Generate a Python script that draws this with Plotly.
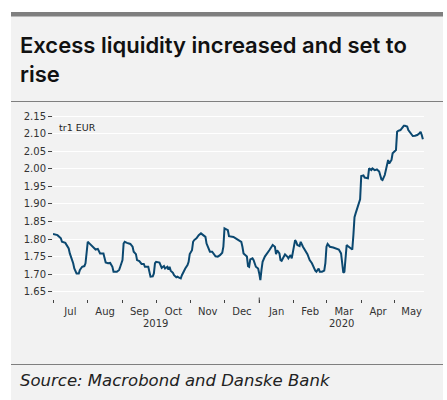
import plotly.graph_objects as go

dates = [
    "2019-07-01", "2019-07-05", "2019-07-08", "2019-07-09", "2019-07-12", "2019-07-13", "2019-07-15",
    "2019-07-16", "2019-07-18", "2019-07-19", "2019-07-20", "2019-07-22", "2019-07-24", "2019-07-25",
    "2019-07-27", "2019-07-29", "2019-07-30", "2019-07-31", "2019-08-01", "2019-08-02", "2019-08-03",
    "2019-08-06", "2019-08-08", "2019-08-10", "2019-08-12", "2019-08-15", "2019-08-17", "2019-08-19",
    "2019-08-21", "2019-08-23", "2019-08-24", "2019-08-27", "2019-08-29", "2019-08-30", "2019-09-01",
    "2019-09-02", "2019-09-03", "2019-09-05", "2019-09-08", "2019-09-10", "2019-09-11", "2019-09-13",
    "2019-09-14", "2019-09-16", "2019-09-18", "2019-09-20", "2019-09-21", "2019-09-24", "2019-09-26",
    "2019-09-28", "2019-09-29", "2019-09-30", "2019-10-01", "2019-10-04", "2019-10-05", "2019-10-06",
    "2019-10-08", "2019-10-09", "2019-10-11", "2019-10-12", "2019-10-13", "2019-10-14", "2019-10-16",
    "2019-10-17", "2019-10-19", "2019-10-20", "2019-10-21", "2019-10-23", "2019-10-24", "2019-10-26",
    "2019-10-27", "2019-10-29", "2019-10-30", "2019-10-31", "2019-11-02", "2019-11-03", "2019-11-04",
    "2019-11-06", "2019-11-08", "2019-11-10", "2019-11-12", "2019-11-14", "2019-11-15", "2019-11-17",
    "2019-11-18", "2019-11-20", "2019-11-22", "2019-11-23", "2019-11-25", "2019-11-27", "2019-11-29",
    "2019-11-30", "2019-12-01", "2019-12-04", "2019-12-05", "2019-12-09", "2019-12-11", "2019-12-14",
    "2019-12-16", "2019-12-17", "2019-12-18", "2019-12-21", "2019-12-22", "2019-12-23", "2019-12-24",
    "2019-12-26", "2019-12-27", "2019-12-29", "2019-12-31", "2020-01-01", "2020-01-02", "2020-01-03",
    "2020-01-04", "2020-01-06", "2020-01-07", "2020-01-09", "2020-01-10", "2020-01-12", "2020-01-13",
    "2020-01-15", "2020-01-16", "2020-01-17", "2020-01-19", "2020-01-20", "2020-01-21", "2020-01-23",
    "2020-01-24", "2020-01-26", "2020-01-27", "2020-01-28", "2020-01-29", "2020-01-30", "2020-01-31",
    "2020-02-02", "2020-02-03", "2020-02-04", "2020-02-06", "2020-02-07", "2020-02-09", "2020-02-10",
    "2020-02-12", "2020-02-13", "2020-02-15", "2020-02-17", "2020-02-20", "2020-02-21", "2020-02-23",
    "2020-02-24", "2020-02-26", "2020-02-28", "2020-02-29", "2020-03-01", "2020-03-02", "2020-03-04",
    "2020-03-07", "2020-03-10", "2020-03-12", "2020-03-14", "2020-03-15", "2020-03-16", "2020-03-17",
    "2020-03-19", "2020-03-20", "2020-03-23", "2020-03-24", "2020-03-25", "2020-03-26", "2020-03-27",
    "2020-03-29", "2020-03-30", "2020-03-31", "2020-04-01", "2020-04-03", "2020-04-04", "2020-04-06",
    "2020-04-07", "2020-04-08", "2020-04-10", "2020-04-11", "2020-04-13", "2020-04-15", "2020-04-17",
    "2020-04-19", "2020-04-20", "2020-04-22", "2020-04-23", "2020-04-24", "2020-04-25", "2020-04-26",
    "2020-04-28", "2020-04-29", "2020-05-01", "2020-05-02", "2020-05-03", "2020-05-04", "2020-05-06",
    "2020-05-07", "2020-05-09", "2020-05-10", "2020-05-12", "2020-05-13", "2020-05-15", "2020-05-17",
    "2020-05-19", "2020-05-21", "2020-05-23", "2020-05-24", "2020-05-25", "2020-05-26",
]

excess_liquidity = [
    1.814, 1.811, 1.802, 1.792, 1.789, 1.783, 1.773,
    1.759, 1.742, 1.731, 1.716, 1.702, 1.702, 1.712,
    1.721, 1.723, 1.731, 1.759, 1.792, 1.789, 1.786,
    1.778, 1.770, 1.772, 1.759, 1.759, 1.733, 1.731,
    1.732, 1.721, 1.707, 1.707, 1.712, 1.721, 1.740,
    1.787, 1.792, 1.789, 1.786, 1.778, 1.764, 1.757,
    1.740, 1.737, 1.729, 1.729, 1.721, 1.721, 1.693,
    1.694, 1.702, 1.731, 1.735, 1.733, 1.726, 1.718,
    1.723, 1.716, 1.721, 1.713, 1.721, 1.710, 1.704,
    1.697, 1.691, 1.693, 1.691, 1.688, 1.697, 1.713,
    1.716, 1.726, 1.735, 1.757, 1.768, 1.792, 1.797,
    1.802, 1.811, 1.816, 1.811, 1.806, 1.787, 1.773,
    1.764, 1.764, 1.757, 1.751, 1.750, 1.754, 1.761,
    1.778, 1.830, 1.825, 1.808, 1.806, 1.802, 1.795,
    1.792, 1.778, 1.759, 1.750, 1.723, 1.721, 1.742,
    1.745, 1.740, 1.721, 1.716, 1.702, 1.683, 1.712,
    1.735, 1.750, 1.754, 1.761, 1.768, 1.778, 1.783,
    1.778, 1.757, 1.768, 1.759, 1.740, 1.738, 1.750,
    1.756, 1.750, 1.745, 1.750, 1.754, 1.745, 1.764,
    1.797, 1.792, 1.783, 1.780, 1.792, 1.778, 1.773,
    1.764, 1.757, 1.740, 1.731, 1.710, 1.707, 1.716,
    1.707, 1.707, 1.710, 1.731, 1.778, 1.786, 1.778,
    1.776, 1.773, 1.770, 1.759, 1.726, 1.704, 1.707,
    1.783, 1.780, 1.773, 1.770, 1.811, 1.862, 1.873,
    1.897, 1.908, 1.913, 1.979, 1.981, 1.975, 1.975,
    1.973, 2.001, 1.996, 2.001, 1.996, 1.998, 1.992,
    1.970, 1.968, 1.982, 1.999, 2.006, 2.025, 2.015,
    2.025, 2.044, 2.051, 2.053, 2.105, 2.108, 2.110,
    2.115, 2.122, 2.122, 2.120, 2.110, 2.101, 2.093,
    2.094, 2.096, 2.101, 2.105, 2.096, 2.084,
]

y_ticks = [1.65, 1.70, 1.75, 1.80, 1.85, 1.90, 1.95, 2.00, 2.05, 2.10, 2.15]
y_tick_labels = [f"{v:.2f}" for v in y_ticks]
year_labels = ["2019", "2020"]
year_label_dates = ["2019-09-30", "2020-03-14"]

title_text = "Excess liquidity increased and set to<br>rise"
unit_text = "tr1 EUR"
source_text = "Source: Macrobond and Danske Bank"

W, H = 447, 400
PL, PR, PT, PB = 53, 424, 108, 299  # plot area in pixels


def px(x):
    return (x - PL) / (PR - PL)


def py(y):
    return (PB - y) / (PB - PT)


FONT = "DejaVu Sans"
TITLE_FONT = "Inter"
PANEL = "#f2f2f2"
RULE = "#7f7f7f"
LINE = "#0b4870"

fig = go.Figure()
fig.add_trace(go.Scatter(
    x=dates, y=excess_liquidity, mode="lines",
    line=dict(color=LINE, width=2), hoverinfo="skip", showlegend=False,
))

shapes = [
    dict(type="rect", xref="paper", yref="paper", x0=px(11), x1=px(443), y0=py(12), y1=py(400),
         fillcolor=PANEL, line=dict(width=0), layer="below"),
    dict(type="rect", xref="paper", yref="paper", x0=px(11), x1=px(443), y0=py(12), y1=py(16.5),
         fillcolor=RULE, line=dict(width=0), layer="below"),
    dict(type="line", xref="paper", yref="paper", x0=px(11), x1=px(443), y0=py(101.5), y1=py(101.5),
         line=dict(color=RULE, width=1.2)),
    dict(type="line", xref="paper", yref="paper", x0=px(11), x1=px(443), y0=py(364.5), y1=py(364.5),
         line=dict(color=RULE, width=1.2)),
    dict(type="line", xref="x", yref="paper", x0="2020-01-01", x1="2020-01-01", y0=py(297.5), y1=py(303),
         line=dict(color="#444", width=1)),
]

annotations = [
    dict(text=title_text, xref="paper", yref="paper", x=px(18), y=py(29.5), xanchor="left", yanchor="top",
         align="left", showarrow=False,
         font=dict(family=TITLE_FONT, size=22, color="#111", weight=600)),
    dict(text=unit_text, xref="paper", yref="paper", x=px(57), y=py(127), xanchor="left", yanchor="middle",
         showarrow=False, font=dict(family=FONT, size=9.5, color="#222")),
    dict(text=source_text, xref="paper", yref="paper", x=px(18), y=py(380), xanchor="left", yanchor="middle",
         showarrow=False, font=dict(family=FONT, size=16.5, color="#222", style="italic")),
]
for lab, d in zip(year_labels, year_label_dates):
    annotations.append(dict(text=lab, xref="x", yref="paper", x=d, y=py(323), xanchor="center",
                            yanchor="middle", showarrow=False, font=dict(family=FONT, size=10, color="#333")))

fig.update_layout(
    width=W, height=H,
    margin=dict(l=PL, r=W - PR, t=PT, b=H - PB, pad=0),
    paper_bgcolor="white", plot_bgcolor=PANEL,
    shapes=shapes, annotations=annotations,
    xaxis=dict(
        type="date", range=["2019-07-01", "2020-05-27"],
        dtick="M1", tick0="2019-07-01", ticklabelmode="period", tickformat="%b",
        ticks="outside", ticklen=3, tickwidth=1, tickcolor="#444",
        showgrid=False, zeroline=False, showline=False,
        tickfont=dict(family=FONT, size=10, color="#333"),
    ),
    yaxis=dict(
        range=[1.6293, 2.1728], tickvals=y_ticks, ticktext=y_tick_labels,
        ticks="outside", ticklen=4, tickwidth=1, tickcolor="#444",
        showgrid=True, gridcolor="white", gridwidth=1.2,
        zeroline=False, showline=False,
        tickfont=dict(family=FONT, size=10, color="#333"),
    ),
)

fig.write_html("out.html", config={"displayModeBar": False})

# remove the default browser page margin so the figure sits at the window origin
with open("out.html", "r", encoding="utf-8") as f:
    html = f.read()
html = html.replace("<head>", "<head><style>html,body{margin:0;padding:0;}</style>", 1)
with open("out.html", "w", encoding="utf-8") as f:
    f.write(html)
